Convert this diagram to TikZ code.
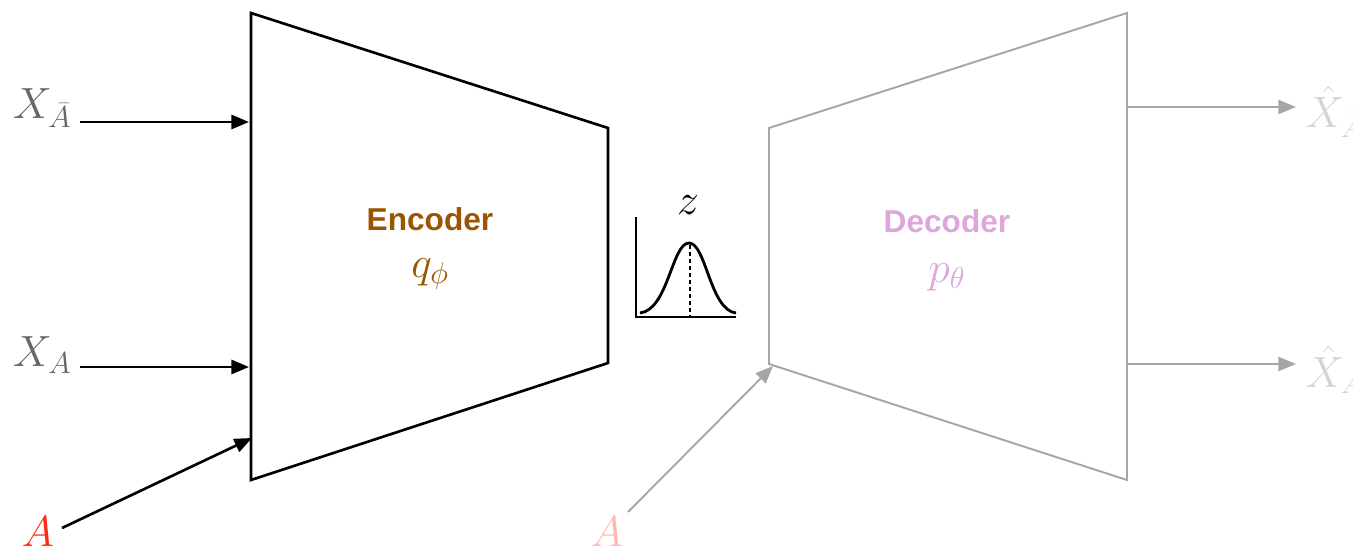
\documentclass[tikz,border=0pt]{standalone}
\usepackage{fontspec}
\setsansfont{Liberation Sans}
\usetikzlibrary{arrows.meta}
\definecolor{enccol}{HTML}{9A5500}
\definecolor{deccol}{HTML}{DDA6DC}
\definecolor{decgray}{HTML}{A6A6A6}
\definecolor{labgray}{HTML}{666666}
\definecolor{hatgray}{HTML}{D4D4D4}
\definecolor{ared}{HTML}{FF2A12}
\definecolor{apink}{HTML}{FFB8AE}
\begin{document}
\begin{tikzpicture}[x=0.02cm,y=-0.02cm,
  enc/.style={draw=black,line width=1.5pt,line join=miter},
  dec/.style={draw=decgray,line width=1.1pt,line join=miter},
  encarrow/.style={-{Triangle[length=10pt,width=8pt]},line width=1.5pt,black},
  decarrow/.style={-{Triangle[length=10pt,width=8pt]},line width=1.1pt,decgray},
  biglab/.style={inner sep=0pt,font=\fontsize{26}{30}\selectfont},
  title/.style={inner sep=0pt,font=\sffamily\bfseries\fontsize{18}{21}\selectfont},
  sub/.style={inner sep=0pt,font=\fontsize{25}{29}\selectfont}]
\useasboundingbox (0,0) rectangle (1353,554);
% encoder
\draw[enc] (251,13) -- (608,128) -- (608,363) -- (251,480) -- cycle;
\coordinate (encU) at (249,122);
\coordinate (encM) at (249,367);
\coordinate (encL) at (252,438);
% decoder
\draw[dec] (769,128) -- (1127,13) -- (1127,480) -- (769,364) -- cycle;
\coordinate (decU) at (1127,107);
\coordinate (decM) at (1127,364);
\coordinate (decL) at (773,366);
% labels
\node[biglab,text=labgray,anchor=east] (xab) at (72,108) {$X_{\bar{A}}$};
\node[biglab,text=labgray,anchor=east] (xa) at (72,355) {$X_{A}$};
\node[biglab,text=ared] (a1) at (38,532) {$A$};
\node[biglab,text=apink] (a2) at (607,532) {$A$};
\node[biglab,text=hatgray,anchor=west] (hxab) at (1305,112) {$\hat{X}_{\bar{A}}$};
\node[biglab,text=hatgray,anchor=west] (hxa) at (1305,370) {$\hat{X}_{A}$};
\coordinate (xabE) at (80,122);
\coordinate (xaE) at (80,367);
\coordinate (a1E) at (62,528);
\coordinate (a2E) at (628,512);
\coordinate (hxabW) at (1296,107);
\coordinate (hxaW) at (1296,364);
\draw[encarrow] (xabE) -- (encU);
\draw[encarrow] (xaE) -- (encM);
\draw[encarrow] (a1E) -- (encL);
\draw[decarrow] (a2E) -- (decL);
\draw[decarrow] (decU) -- (hxabW);
\draw[decarrow] (decM) -- (hxaW);
% texts
\node[title,text=enccol] (enct) at (430,219) {Encoder};
\node[sub,text=enccol] (encq) at (430,274) {$q_{\phi}$};
\node[title,text=deccol] (dect) at (947,221) {Decoder};
\node[sub,text=deccol] (decp) at (947,277) {$p_{\theta}$};
% latent
\node[sub] (z) at (688,205) {$z$};
\draw[line width=1.7pt] (636,217) -- (636,317) -- (736,317);
\draw[line width=1.6pt] (640,313) .. controls (668,310) and (672,243) .. (689,243)
  .. controls (706,243) and (710,310) .. (736,313);
\draw[line width=1pt,dash pattern=on 2pt off 2pt] (690,245) -- (690,316);
\end{tikzpicture}
\end{document}
